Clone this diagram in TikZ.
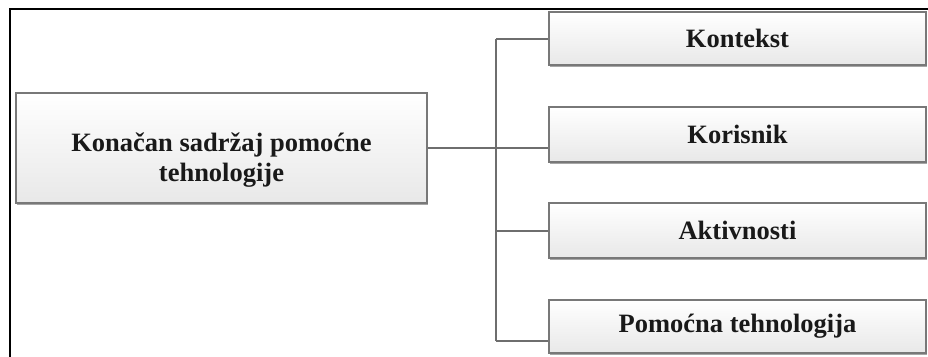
\documentclass[tikz,border=0pt]{standalone}
\usepackage{fontspec}
\setmainfont{Liberation Serif}
\usetikzlibrary{shadows}
\definecolor{edge}{HTML}{787878}
\definecolor{conn}{HTML}{6E6E6E}
\begin{document}
\begin{tikzpicture}[x=1pt,y=-1pt,
  box/.style={draw=edge, line width=1.3pt, top color=white, bottom color=black!9,
    drop shadow={shadow xshift=0.8pt, shadow yshift=-1.6pt, opacity=0.35, fill=black},
    inner sep=0pt},
  lbl/.style={font=\bfseries\fontsize{26.5}{30}\selectfont, align=center, inner sep=0pt, text=black!90},
  conn/.style={draw=conn, line width=1.1pt},
  frame/.style={draw=black, line width=2.4pt}]
\useasboundingbox (0,0) rectangle (928,356);
\fill[white] (0,0) rectangle (928,356);
% frame
\coordinate (ftl) at (10,9);
\coordinate (ftr) at (930,9);
\coordinate (fbl) at (10,358);
\draw[frame] (ftr) -- (ftl) -- (fbl);
% nodes
\node[box, minimum width=411pt, minimum height=110pt] (main) at (221.5,148) {};
\node[lbl] (mainlbl) at (221.5,160) {Konačan sadržaj pomoćne\\tehnologije};
\node[box, lbl, minimum width=377pt, minimum height=53pt] (b1) at (737.5,38.5) {Kontekst};
\node[box, lbl, minimum width=377pt, minimum height=55pt] (b2) at (737.5,134.5) {Korisnik};
\node[box, lbl, minimum width=377pt, minimum height=55pt] (b3) at (737.5,230.5) {Aktivnosti};
\node[box, lbl, minimum width=377pt, minimum height=53pt] (b4) at (737.5,326.5) {Pomoćna tehnologija};
% connectors
\coordinate (bt) at (496,39);
\coordinate (bm) at (496,148);
\coordinate (b3c) at (496,231);
\coordinate (bb) at (496,341);
\draw[conn] (bt) -- (bb);
\draw[conn] (main.east |- bm) -- (bm) -- (bm -| b2.west);
\draw[conn] (bt) -- (bt -| b1.west);
\draw[conn] (b3c) -- (b3c -| b3.west);
\draw[conn] (bb) -- (bb -| b4.west);
\end{tikzpicture}
\end{document}
